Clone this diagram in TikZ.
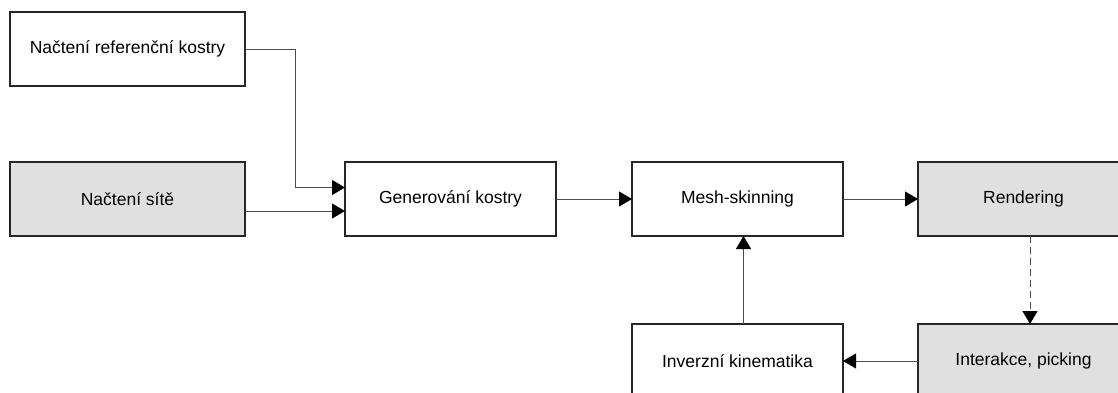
\documentclass[tikz,border=0pt]{standalone}
\usepackage{fontspec}
\setmainfont{Liberation Sans}
\usepackage{xcolor}
\usepackage{tikz}
\usetikzlibrary{arrows.meta}
\usetikzlibrary{positioning}
\definecolor{boxgray}{RGB}{224,224,224}
\tikzstyle{block} = [rectangle, draw=black!85, line width=1.6pt, outer sep=0pt,
    text centered, minimum height=74pt, minimum width=211pt,
    font=\fontsize{17.5}{21}\selectfont]
\tikzstyle{wideblock} = [block, minimum width=235pt]
\tikzstyle{shaded} = [fill=boxgray]
\tikzstyle{line} = [draw=black!70, line width=1pt,
    -{Triangle[length=13pt,width=15pt,black]}]
\tikzstyle{dashline} = [line, dash pattern=on 7pt off 4pt]

\begin{document}
\begin{tikzpicture}[node distance = 76pt, auto]
    \useasboundingbox (0,0) rectangle (1118pt,-392pt);
    % Place nodes
    \node [wideblock, shaded] (nodeb) at (127.5pt,-199pt) {Načtení sítě};
    \node [wideblock, above=76pt of nodeb] (nodea) {Načtení referenční kostry};
    \node [block, right=100pt of nodeb] (nodec) {Generování kostry};
    \node [block, right=of nodec] (noded) {Mesh-skinning};
    \node [block, shaded, right=75pt of noded] (nodee) {Rendering};
    \node [block, shaded, below=88pt of nodee] (nodef) {Interakce, picking};
    \node [block, below=88pt of noded] (nodeg) {Inverzní kinematika};

    \path [line] (nodea.east) -| ([xshift=-50pt,yshift=11.5pt]nodec.west) -- ([yshift=11.5pt]nodec.west);
    \path [line] ([yshift=-12pt]nodeb.east) -- ([yshift=-12pt]nodec.west);
    \path [line] (nodec) -- (noded);
    \path [line] (noded) -- (nodee);
    \path [dashline] ([xshift=6.5pt]nodee.south) -- ([xshift=6.5pt]nodef.north);
    \path [line] (nodef) -- (nodeg);
    \path [line] ([xshift=6pt]nodeg.north) -- ([xshift=6pt]noded.south);
\end{tikzpicture}
\end{document}
